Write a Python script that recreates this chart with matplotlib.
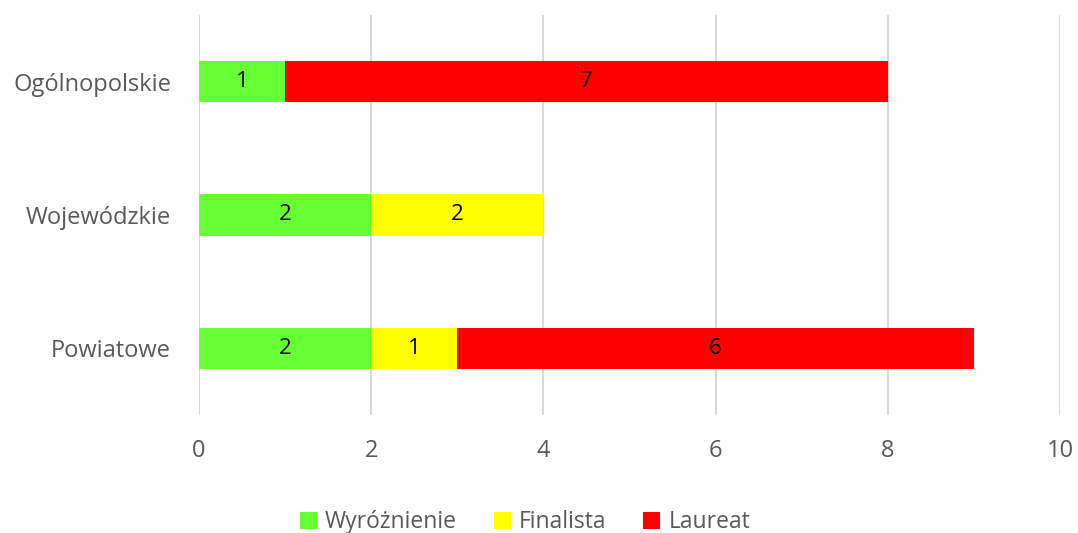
import matplotlib
matplotlib.use("Agg")
import matplotlib.pyplot as plt
import numpy as np

categories = ["Ogólnopolskie", "Wojewódzkie", "Powiatowe"]
series_names = ["Wyróżnienie", "Finalista", "Laureat"]
wyroznienie = [1, 2, 2]
finalista = [0, 2, 1]
laureat = [7, 0, 6]
xticks = [0, 2, 4, 6, 8, 10]

colors = ["#66FF33", "#FFFF00", "#FF0000"]
plt.rcParams['font.family'] = ['Open Sans', 'DejaVu Sans']

fig = plt.figure(figsize=(10.78, 5.33), dpi=100)
ax = fig.add_axes([0.1846, 0.2214, 0.7987, 0.7505])

ypos = np.arange(len(categories))
left = np.zeros(len(categories))
handles = []
for name, vals, c in zip(series_names, [wyroznienie, finalista, laureat], colors):
    vals = np.array(vals, dtype=float)
    b = ax.barh(ypos, vals, left=left, height=0.31, color=c, label=name, zorder=3)
    handles.append(b)
    for y, l, v in zip(ypos, left, vals):
        if v > 0:
            ax.text(l + v / 2, y, f"{int(v)}", ha="center", va="center",
                    fontsize=16, color="black", zorder=4)
    left += vals

ax.set_ylim(2.5, -0.5)
ax.set_xlim(0, 10)
ax.set_xticks(xticks)
ax.set_yticks(ypos)
ax.set_yticklabels(categories)
ax.tick_params(axis="both", length=0, labelsize=17, colors="#595959")
ax.tick_params(axis="x", pad=17)
ax.tick_params(axis="y", pad=20)
for s in ax.spines.values():
    s.set_visible(False)
ax.grid(axis="x", color="#d9d9d9", linewidth=1.5, zorder=0)
ax.set_axisbelow(True)

fig.legend(handles=handles, labels=series_names, loc="center", bbox_to_anchor=(0.487, 0.02),
           ncol=3, frameon=False, fontsize=16.5, handlelength=0.75, handleheight=0.75,
           handletextpad=0.35, columnspacing=1.6, labelcolor="#595959")

fig.savefig("out.png", dpi=100)
